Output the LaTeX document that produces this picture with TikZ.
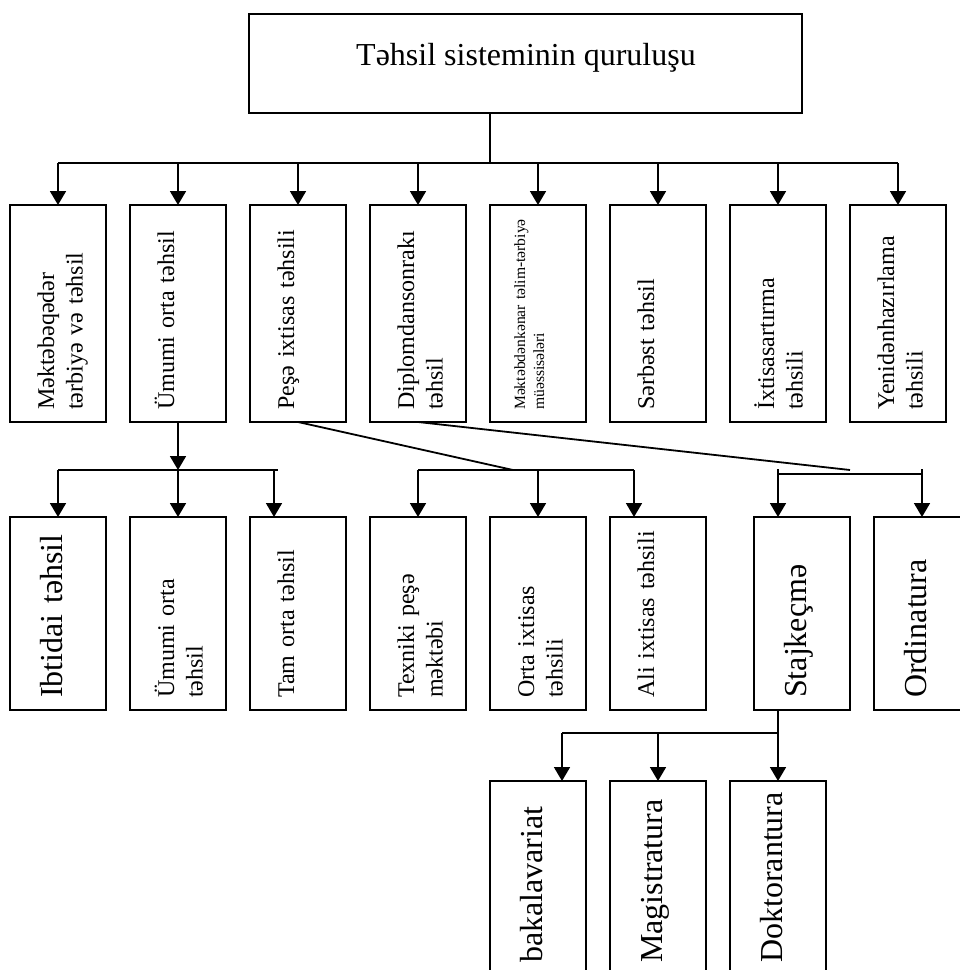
\documentclass[tikz,border=0pt]{standalone}
\usepackage{fontspec}
\setmainfont{Liberation Serif}
\usetikzlibrary{arrows.meta}
\begin{document}
\begin{tikzpicture}[x=1pt,y=-1pt,
  box/.style={draw, line width=2pt, rectangle, inner sep=0pt, outer sep=0pt, anchor=north west},
  rowone/.style={box, minimum width=96pt, minimum height=217pt},
  rowtwo/.style={box, minimum width=96pt, minimum height=193pt},
  rowthree/.style={box, minimum width=96pt, minimum height=220pt},
  lbl/.style={rotate=90, anchor=base west, inner sep=0pt, text width=240pt, align=left},
  fbig/.style={font=\fontsize{32}{36}\selectfont},
  fmid/.style={font=\fontsize{24}{28.5}\selectfont},
  fsmall/.style={font=\fontsize{15.6}{19}\selectfont},
  link/.style={line width=1.8pt},
  arr/.style={link, -{Triangle[length=14pt,width=16pt]}},
]
\useasboundingbox (0,0) rectangle (960,970);
\clip (0,0) rectangle (960,970);
\fill[white] (0,0) rectangle (960,970);

% root
\node[box, minimum width=553pt, minimum height=99pt] (root) at (249,14) {};
\node[anchor=base, inner sep=0pt, fbig] (rootlbl) at (526,65) {Təhsil sisteminin quruluşu};

% first level
\foreach \i in {1,...,8} {
  \node[rowone] (b\i) at ({10+120*(\i-1)},205) {};
}
\node[lbl,fmid]   (tb1) at ([xshift=44pt,yshift=12pt]b1.south west) {Məktəbəqədər\\tərbiyə və təhsil};
\node[lbl,fmid]   (tb2) at ([xshift=44pt,yshift=12pt]b2.south west) {Ümumi orta təhsil};
\node[lbl,fmid]   (tb3) at ([xshift=44pt,yshift=12pt]b3.south west) {Peşə ixtisas təhsili};
\node[lbl,fmid]   (tb4) at ([xshift=44pt,yshift=12pt]b4.south west) {Diplomdansonrakı\\təhsil};
\node[lbl,fsmall] (tb5) at ([xshift=35pt,yshift=12pt]b5.south west) {Məktəbdənkənar təlim-tərbiyə\\müəssisələri};
\node[lbl,fmid]   (tb6) at ([xshift=44pt,yshift=12pt]b6.south west) {Sərbəst təhsil};
\node[lbl,fmid]   (tb7) at ([xshift=44pt,yshift=12pt]b7.south west) {İxtisasartırma\\təhsili};
\node[lbl,fmid]   (tb8) at ([xshift=44pt,yshift=12pt]b8.south west) {Yenidənhazırlama\\təhsili};

% second level
\node[rowtwo] (c1) at (10,517) {};
\node[rowtwo] (c2) at (130,517) {};
\node[rowtwo] (c3) at (250,517) {};
\node[rowtwo] (c4) at (370,517) {};
\node[rowtwo] (c5) at (490,517) {};
\node[rowtwo] (c6) at (610,517) {};
\node[rowtwo] (c7) at (754,517) {};
\node[rowtwo] (c8) at (874,517) {};
\node[lbl,fbig] (tc1) at ([xshift=52pt,yshift=12pt]c1.south west) {Ibtidai təhsil};
\node[lbl,fmid] (tc2) at ([xshift=44pt,yshift=12pt]c2.south west) {Ümumi orta\\təhsil};
\node[lbl,fmid] (tc3) at ([xshift=44pt,yshift=12pt]c3.south west) {Tam orta təhsil};
\node[lbl,fmid] (tc4) at ([xshift=44pt,yshift=12pt]c4.south west) {Texniki peşə\\məktəbi};
\node[lbl,fmid] (tc5) at ([xshift=44pt,yshift=12pt]c5.south west) {Orta ixtisas\\təhsili};
\node[lbl,fmid] (tc6) at ([xshift=44pt,yshift=12pt]c6.south west) {Ali ixtisas təhsili};
\node[lbl,fbig] (tc7) at ([xshift=52pt,yshift=12pt]c7.south west) {Stajkeçmə};
\node[lbl,fbig] (tc8) at ([xshift=52pt,yshift=12pt]c8.south west) {Ordinatura};

% third level
\node[rowthree] (d1) at (490,781) {};
\node[rowthree] (d2) at (610,781) {};
\node[rowthree] (d3) at (730,781) {};
\node[lbl,fbig] (td1) at ([xshift=52pt]d1.west |- 0,963) {bakalavariat};
\node[lbl,fbig] (td2) at ([xshift=52pt]d2.west |- 0,963) {Magistratura};
\node[lbl,fbig] (td3) at ([xshift=52pt]d3.west |- 0,963) {Doktorantura};

% root to first level
\coordinate (hub) at (490,163);
\draw[link] (root.south -| hub) -- (hub);
\draw[link] (b1.north |- hub) -- (b8.north |- hub);
\foreach \i in {1,...,8} {
  \draw[arr] (b\i.north |- hub) -- (b\i.north);
}

% general secondary branch
\coordinate (busA) at (178,470);
\coordinate (busAend) at (278,470);
\coordinate (tapC3) at (274,470);
\draw[arr] (b2.south) -- (b2.south |- busA);
\draw[link] (c1.north |- busA) -- (busAend);
\draw[arr] (c1.north |- busA) -- (c1.north);
\draw[arr] (c2.north |- busA) -- (c2.north);
\draw[arr] (tapC3) -- (tapC3 |- c3.north);

% vocational branch
\coordinate (pesEnd) at (513,470);
\coordinate (tapC6) at (634,470);
\draw[link] (b3.south) -- (pesEnd);
\draw[link] (c4.north |- pesEnd) -- (tapC6);
\draw[arr] (c4.north |- pesEnd) -- (c4.north);
\draw[arr] (c5.north |- pesEnd) -- (c5.north);
\draw[arr] (tapC6) -- (tapC6 |- c6.north);

% postgraduate branch
\coordinate (dipEnd) at (850,470);
\coordinate (tapC7) at (778,474);
\coordinate (tapC8) at (922,474);
\draw[link] (b4.south) -- (dipEnd);
\draw[link] ([yshift=5pt]tapC7) -- (tapC7) -- (tapC8) -- ([yshift=5pt]tapC8);
\draw[arr] (tapC7) -- (tapC7 |- c7.north);
\draw[arr] (tapC8) -- (c8.north);

% internship branch
\coordinate (busD) at (778,733);
\coordinate (tapD1) at (562,733);
\draw[arr] (c7.south -| busD) -- (d3.north);
\draw[link] (busD) -- (tapD1);
\draw[arr] (tapD1) -- (tapD1 |- d1.north);
\draw[arr] (d2.north |- busD) -- (d2.north);
\end{tikzpicture}
\end{document}
